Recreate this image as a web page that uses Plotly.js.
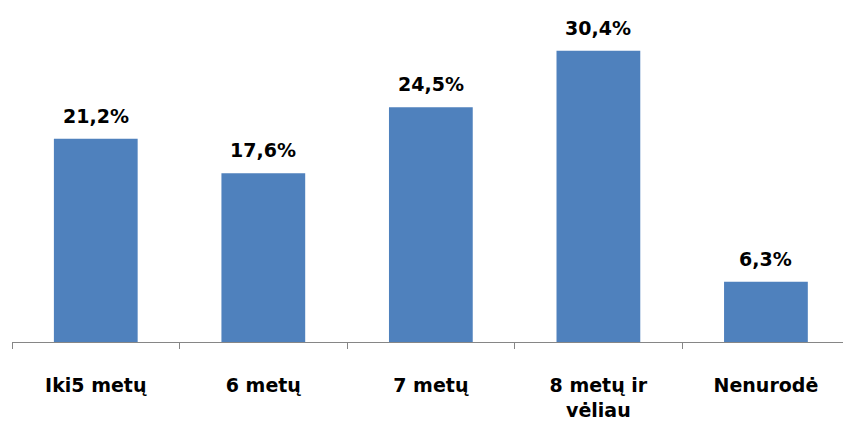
<!DOCTYPE html>
<html><head><meta charset="utf-8">
<script src="https://cdn.plot.ly/plotly-3.0.1.min.js"></script>
<style>body{margin:0;background:#fff}#c{width:843px;height:427px}</style>
</head><body><div id="c"></div>
<script>
const categories = ["Iki5 metų", "6 metų", "7 metų", "8 metų ir<br>vėliau", "Nenurodė"];
const values = [21.2, 17.6, 24.5, 30.4, 6.3];
const labels = values.map(v => v.toFixed(1).replace('.', ',') + '%');

const trace = {
  type: 'bar', x: categories, y: values,
  marker: {color: '#4f81bd'}, width: 0.5, hoverinfo: 'none'
};
const annotations = categories.map((c, i) => ({
  x: c, y: values[i], text: labels[i], showarrow: false,
  xref: 'x', yref: 'y', yanchor: 'bottom', yshift: 10,
  font: {family: 'DejaVu Sans', size: 19, color: '#000', weight: 'bold'}
}));
const layout = {
  width: 843, height: 427,
  margin: {l: 12, r: 0, t: 20, b: 85},
  paper_bgcolor: '#fff', plot_bgcolor: '#fff',
  showlegend: false,
  xaxis: {
    type: 'category', range: [-0.5, 4.46],
    showline: true, linecolor: '#868686', linewidth: 1,
    ticks: 'outside', tickson: 'boundaries', ticklen: 6, tickcolor: '#868686',
    tickfont: {family: 'DejaVu Sans', size: 19, color: '#000', weight: 'bold'},
    ticklabelstandoff: 26, showgrid: false, zeroline: false
  },
  yaxis: {range: [0, 33.6], visible: false, showgrid: false, zeroline: false},
  annotations: annotations
};
Plotly.newPlot('c', [trace], layout, {staticPlot: true});
</script></body></html>
